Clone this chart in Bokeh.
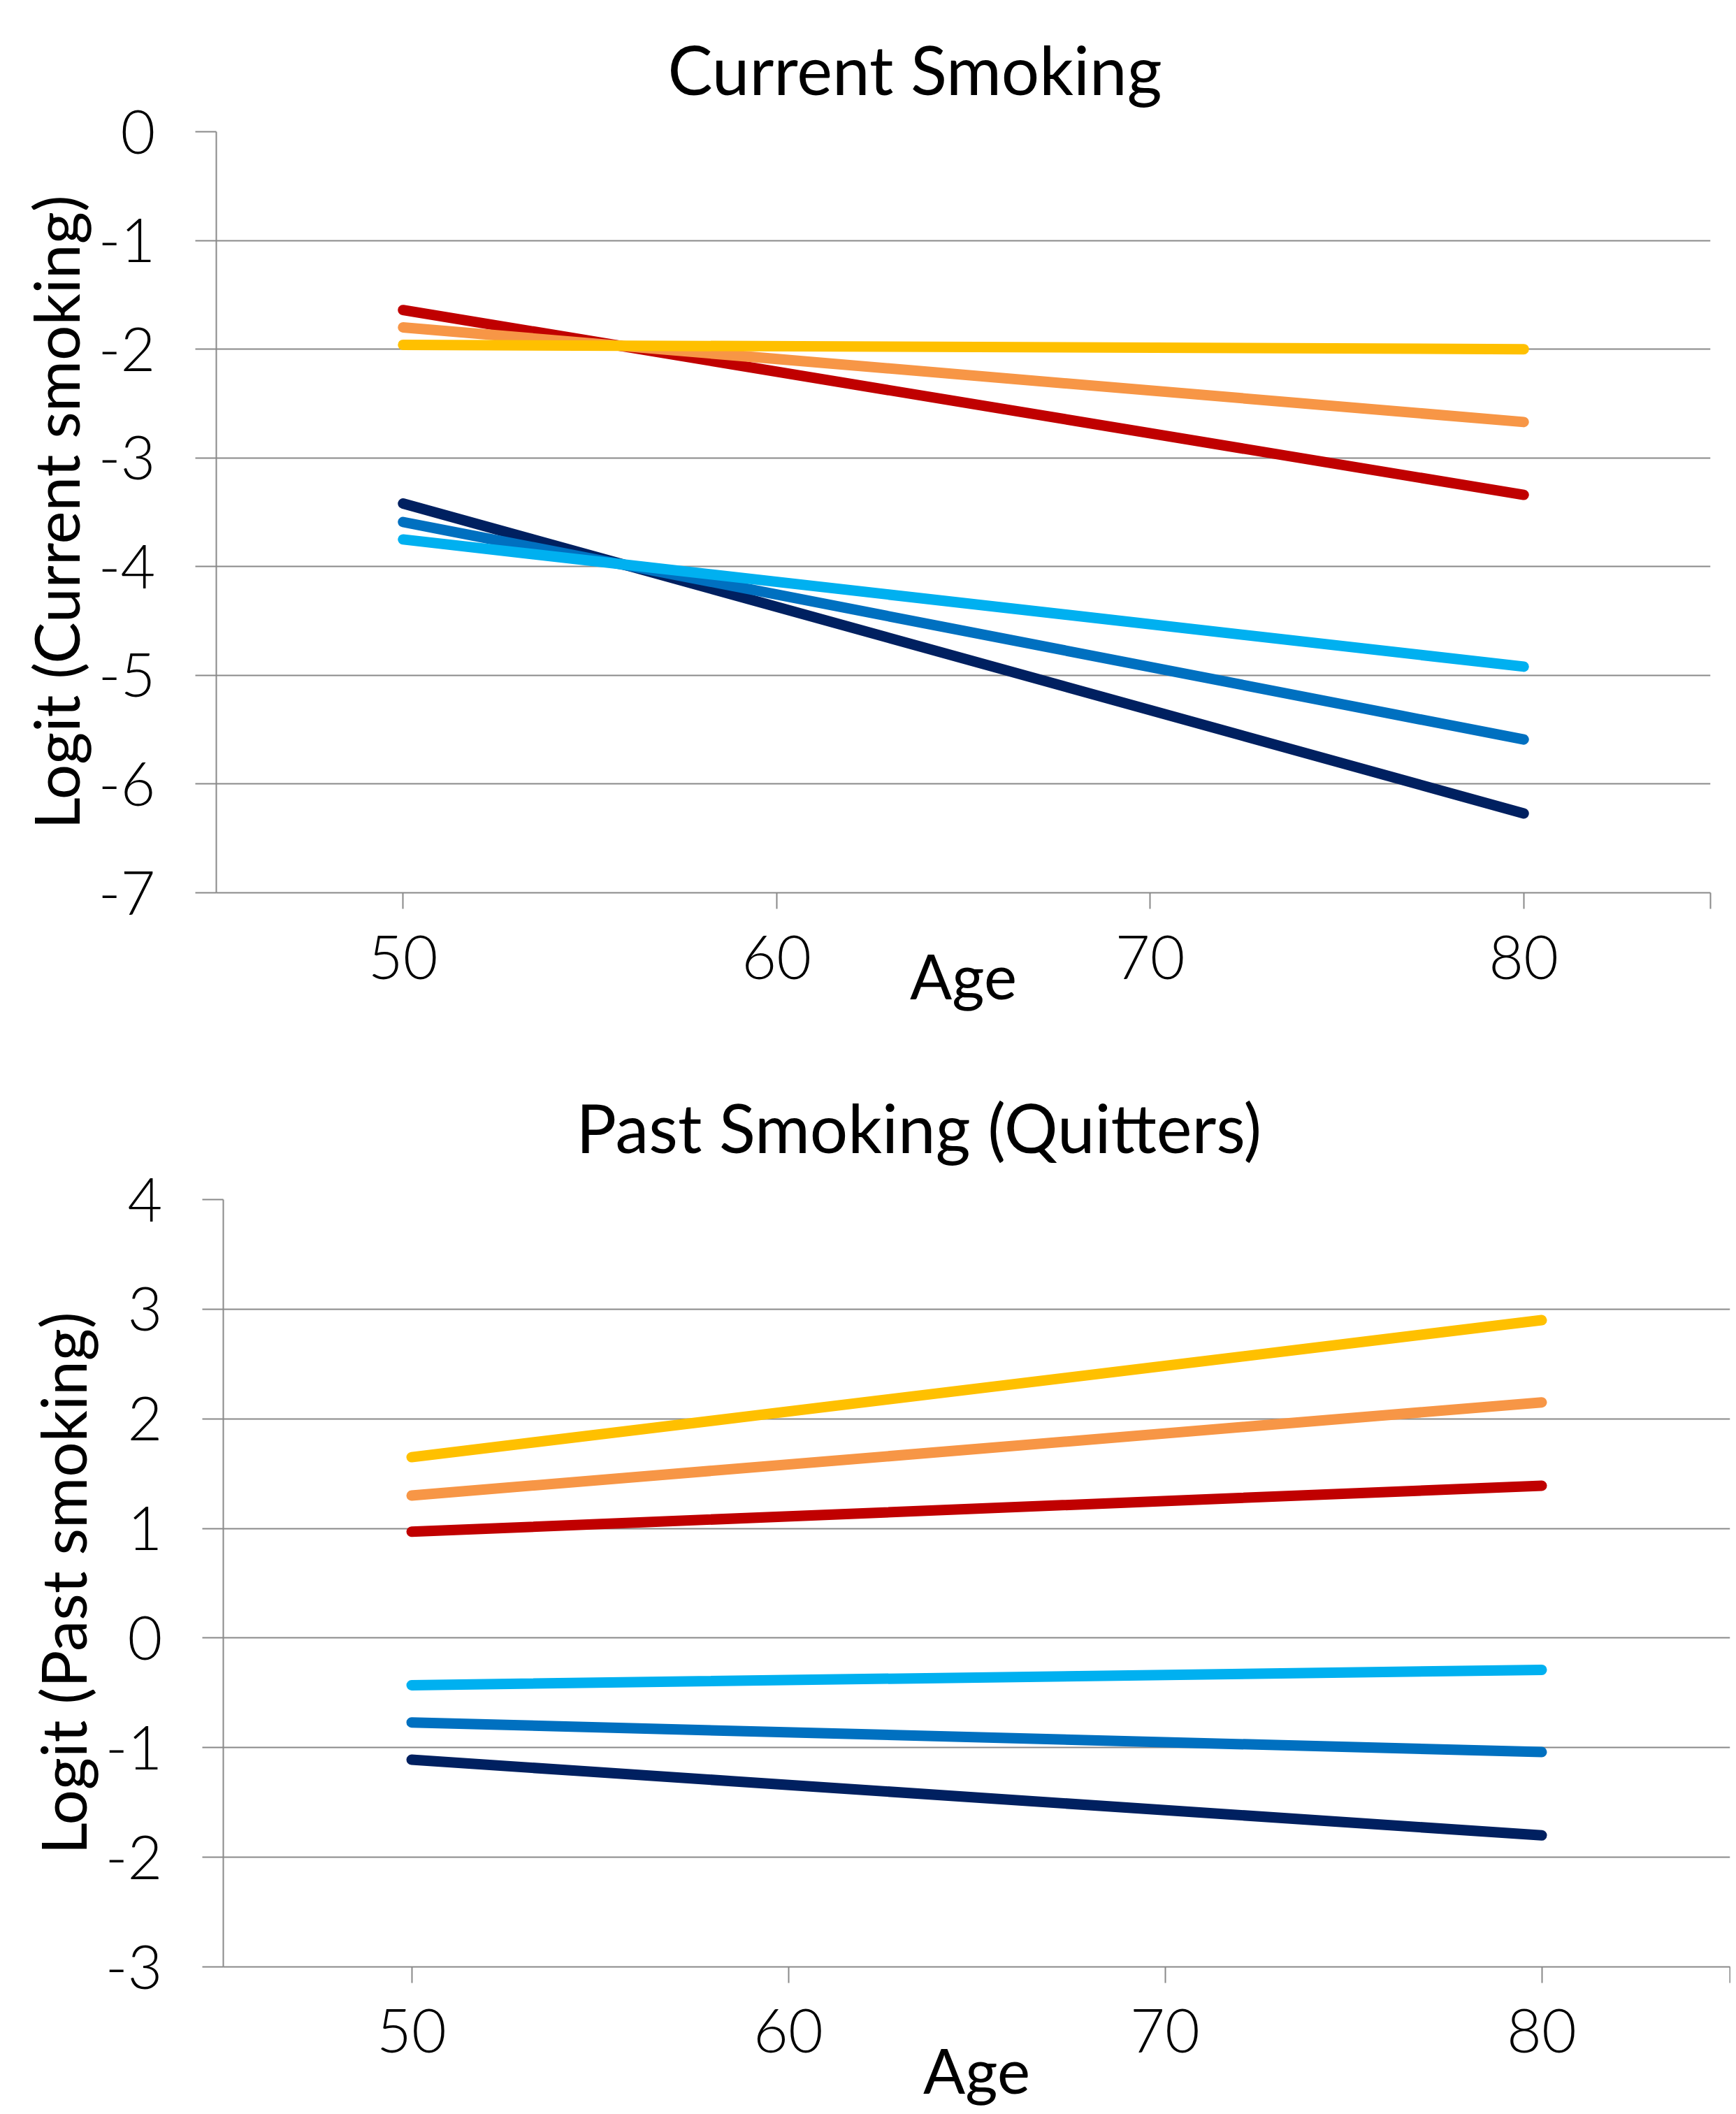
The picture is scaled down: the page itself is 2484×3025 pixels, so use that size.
from bokeh.plotting import figure
from bokeh.models import Range1d, FixedTicker
from bokeh.embed import file_html
from bokeh.resources import INLINE

# ---------------- data ----------------
ages = [50, 80]

series_names = ["Dark blue", "Blue", "Light blue", "Red", "Orange", "Yellow"]
series_colors = ["#002060", "#0070C0", "#00B0F0", "#C00000", "#F79646", "#FFC000"]

current_dark_blue = [-3.42, -6.27]
current_blue = [-3.59, -5.59]
current_light_blue = [-3.75, -4.92]
current_red = [-1.64, -3.34]
current_orange = [-1.80, -2.67]
current_yellow = [-1.96, -2.00]

past_dark_blue = [-1.11, -1.80]
past_blue = [-0.77, -1.04]
past_light_blue = [-0.43, -0.29]
past_red = [0.97, 1.39]
past_orange = [1.30, 2.15]
past_yellow = [1.65, 2.90]

x_ticks = [50, 60, 70, 80, 85]
x_tick_labels = ["50", "60", "70", "80", ""]

current_y_ticks = [0, -1, -2, -3, -4, -5, -6, -7]
current_y_labels = ["0", "-1", "-2", "-3", "-4", "-5", "-6", "-7"]

past_y_ticks = [4, 3, 2, 1, 0, -1, -2, -3]
past_y_labels = ["4", "3", "2", "1", "0", "-1", "-2", "-3"]

# ---------------- style ----------------
FONT = "Lato"
TICK_FONT = "Lato Light, Lato"
GRID = "#898989"


def make_fig(title, ylabel, yr, yticks, ylabels, series, height, borders,
             title_offset, title_standoff, tick_standoff, xlabel_standoff):
    bl, br, bt, bb = borders
    p = figure(width=2476, height=height, x_range=Range1d(45, 85),
               y_range=Range1d(*yr), output_backend="svg",
               toolbar_location=None, min_border_left=bl,
               min_border_right=br, min_border_top=bt, min_border_bottom=bb)
    p.outline_line_color = None
    p.background_fill_color = "white"
    p.border_fill_color = "white"

    xa = p.below[0]
    ya = p.left[0]

    p.title.text = title
    p.title.align = "left"
    p.title.vertical_align = "top"
    p.title.text_font = FONT
    p.title.text_font_size = "96px"
    p.title.text_font_style = "normal"
    p.title.text_color = "black"
    p.title.offset = title_offset
    p.title.standoff = title_standoff

    xa.ticker = FixedTicker(ticks=x_ticks)
    xa.major_label_overrides = dict(zip(x_ticks, x_tick_labels))
    xa.axis_label = "Age"
    xa.axis_label_standoff = xlabel_standoff
    xa.major_label_standoff = tick_standoff

    ya.ticker = FixedTicker(ticks=yticks)
    ya.major_label_overrides = dict(zip(yticks, ylabels))
    ya.axis_label = ylabel
    ya.axis_label_standoff = 5
    ya.major_label_standoff = 57

    for ax in (xa, ya):
        ax.axis_line_color = GRID
        ax.axis_line_width = 2
        ax.major_tick_line_color = GRID
        ax.major_tick_line_width = 2
        ax.major_tick_in = 0
        ax.minor_tick_line_color = None
        ax.major_label_text_font = TICK_FONT
        ax.major_label_text_font_size = "86px"
        ax.major_label_text_color = "black"
        ax.axis_label_text_font = FONT
        ax.axis_label_text_font_size = "89px"
        ax.axis_label_text_font_style = "normal"
        ax.axis_label_text_color = "black"
    xa.major_tick_out = 23
    ya.major_tick_out = 30

    p.xgrid.visible = False
    p.ygrid.ticker = FixedTicker(ticks=yticks)
    p.ygrid.grid_line_color = GRID
    p.ygrid.grid_line_width = 2

    for vals, color in zip(series, series_colors):
        p.line(ages, vals, line_width=15, line_color=color, line_cap="round")
    return p


top = make_fig("Current Smoking", "Logit (Current smoking)", (-7, 0),
               current_y_ticks, current_y_labels,
               [current_dark_blue, current_blue, current_light_blue,
                current_red, current_orange, current_yellow],
               1500, (309, 29, 188, 223), 646, 62, 38, -62)

bottom = make_fig("Past Smoking (Quitters)", "Logit (Past smoking)", (-3, 4),
                  past_y_ticks, past_y_labels,
                  [past_dark_blue, past_blue, past_light_blue,
                   past_red, past_orange, past_yellow],
                  1517, (319, 1, 216, 196), 505, 90, 37, -32)

p = [top, bottom]
open("out.html", "w").write(file_html(p, INLINE))
